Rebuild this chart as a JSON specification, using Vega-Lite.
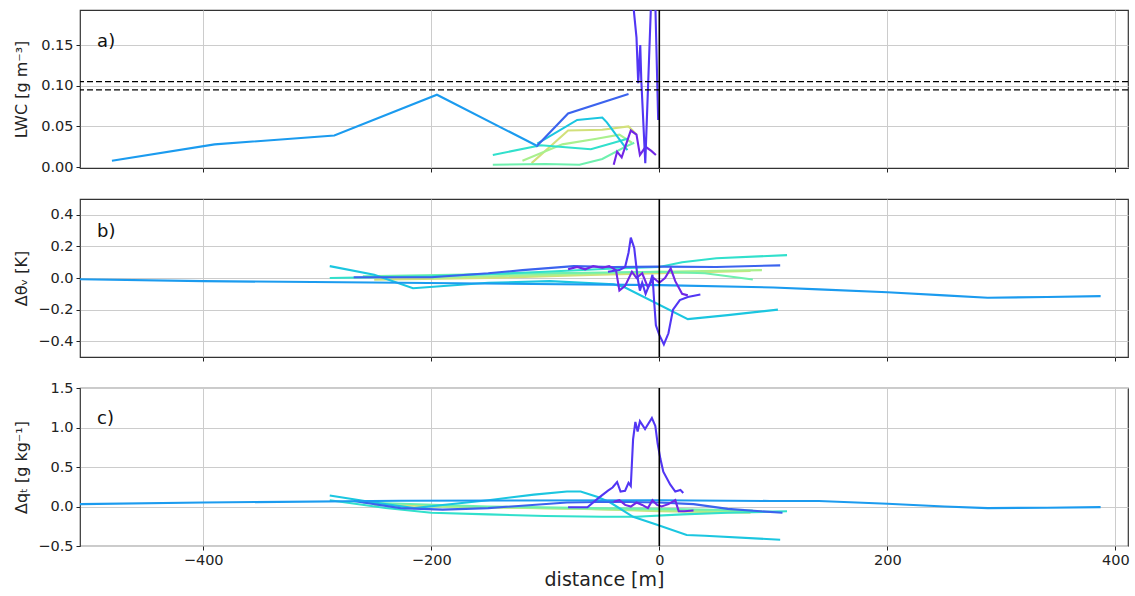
{
  "$schema": "https://vega.github.io/schema/vega-lite/v6.json",
  "padding": {"left": 12, "top": 8, "right": 7, "bottom": 5},
  "bounds": "flush",
  "spacing": 31,
  "background": "white",
  "config": {
    "font": "DejaVu Sans",
    "view": {"stroke": "#333333", "strokeWidth": 1.2},
    "axis": {
      "labelFont": "DejaVu Sans", "labelFontSize": 14.5, "labelColor": "#222222", "labelOverlap": false,
      "tickColor": "#222222", "tickSize": 4, "labelPadding": 3, "domain": false, "tickCount": 12,
      "gridColor": "#cccccc", "gridWidth": 1,
      "titleFont": "DejaVu Sans", "titleFontWeight": "normal", "titleColor": "#222222", "titleFontSize": 16
    },
    "line": {"strokeWidth": 2.1, "clip": true}
  },
  "datasets": {
    "lines": [
      {"p":"a","s":"y1","x":-112,"y":0.005},{"p":"a","s":"y1","x":-92,"y":0.03},{"p":"a","s":"y1","x":-80,"y":0.045},{"p":"a","s":"y1","x":-50,"y":0.046},{"p":"a","s":"y1","x":-27,"y":0.05},{"p":"a","s":"y1","x":-20,"y":0.04},
      {"p":"a","s":"g2","x":-120,"y":0.008},{"p":"a","s":"g2","x":-85,"y":0.028},{"p":"a","s":"g2","x":-55,"y":0.035},{"p":"a","s":"g2","x":-35,"y":0.04},{"p":"a","s":"g2","x":-24,"y":0.03},
      {"p":"a","s":"g1","x":-146,"y":0.003},{"p":"a","s":"g1","x":-100,"y":0.004},{"p":"a","s":"g1","x":-70,"y":0.003},{"p":"a","s":"g1","x":-50,"y":0.01},{"p":"a","s":"g1","x":-30,"y":0.025},{"p":"a","s":"g1","x":-22,"y":0.03},
      {"p":"a","s":"c2","x":-146,"y":0.015},{"p":"a","s":"c2","x":-104,"y":0.027},{"p":"a","s":"c2","x":-60,"y":0.022},{"p":"a","s":"c2","x":-40,"y":0.03},{"p":"a","s":"c2","x":-28,"y":0.035},
      {"p":"a","s":"c1","x":-107,"y":0.029},{"p":"a","s":"c1","x":-72,"y":0.058},{"p":"a","s":"c1","x":-50,"y":0.061},{"p":"a","s":"c1","x":-46,"y":0.055},{"p":"a","s":"c1","x":-28,"y":0.021},
      {"p":"a","s":"s2","x":-108,"y":0.025},{"p":"a","s":"s2","x":-80,"y":0.066},{"p":"a","s":"s2","x":-27,"y":0.09},
      {"p":"a","s":"s1","x":-480,"y":0.008},{"p":"a","s":"s1","x":-390,"y":0.028},{"p":"a","s":"s1","x":-285,"y":0.039},{"p":"a","s":"s1","x":-195,"y":0.089},{"p":"a","s":"s1","x":-107,"y":0.026},
      {"p":"a","s":"v2","x":-40,"y":0.003},{"p":"a","s":"v2","x":-37,"y":0.019},{"p":"a","s":"v2","x":-33,"y":0.012},{"p":"a","s":"v2","x":-25,"y":0.045},{"p":"a","s":"v2","x":-20,"y":0.04},{"p":"a","s":"v2","x":-17,"y":0.015},{"p":"a","s":"v2","x":-12,"y":0.025},{"p":"a","s":"v2","x":-7,"y":0.02},{"p":"a","s":"v2","x":-3,"y":0.015},
      {"p":"a","s":"v1","x":-25,"y":0.23},{"p":"a","s":"v1","x":-20,"y":0.159},{"p":"a","s":"v1","x":-18.5,"y":0.103},{"p":"a","s":"v1","x":-16.7,"y":0.15},{"p":"a","s":"v1","x":-15.8,"y":0.107},{"p":"a","s":"v1","x":-12.3,"y":0.005},{"p":"a","s":"v1","x":-6.5,"y":0.23},{"p":"a","s":"v1","x":-4,"y":0.23},{"p":"a","s":"v1","x":-1,"y":0.058},

      {"p":"b","s":"y1","x":-250,"y":-0.01},{"p":"b","s":"y1","x":-150,"y":0.0},{"p":"b","s":"y1","x":-60,"y":0.02},{"p":"b","s":"y1","x":0,"y":0.03},{"p":"b","s":"y1","x":80,"y":0.045},
      {"p":"b","s":"g2","x":-200,"y":0.0},{"p":"b","s":"g2","x":-100,"y":0.02},{"p":"b","s":"g2","x":0,"y":0.04},{"p":"b","s":"g2","x":90,"y":0.05},
      {"p":"b","s":"g1","x":-260,"y":0.01},{"p":"b","s":"g1","x":-100,"y":0.03},{"p":"b","s":"g1","x":0,"y":0.04},{"p":"b","s":"g1","x":40,"y":0.03},{"p":"b","s":"g1","x":82,"y":-0.01},
      {"p":"b","s":"c2","x":-289,"y":0.0},{"p":"b","s":"c2","x":-200,"y":0.01},{"p":"b","s":"c2","x":-100,"y":0.04},{"p":"b","s":"c2","x":-40,"y":0.06},{"p":"b","s":"c2","x":0,"y":0.07},{"p":"b","s":"c2","x":20,"y":0.1},{"p":"b","s":"c2","x":50,"y":0.125},{"p":"b","s":"c2","x":112,"y":0.145},
      {"p":"b","s":"c1","x":-289,"y":0.075},{"p":"b","s":"c1","x":-250,"y":0.02},{"p":"b","s":"c1","x":-216,"y":-0.065},{"p":"b","s":"c1","x":-150,"y":-0.03},{"p":"b","s":"c1","x":-96,"y":-0.02},{"p":"b","s":"c1","x":-40,"y":-0.04},{"p":"b","s":"c1","x":-30,"y":-0.06},{"p":"b","s":"c1","x":25,"y":-0.26},{"p":"b","s":"c1","x":60,"y":-0.235},{"p":"b","s":"c1","x":104,"y":-0.2},
      {"p":"b","s":"s2","x":-268,"y":0.005},{"p":"b","s":"s2","x":-200,"y":0.005},{"p":"b","s":"s2","x":-150,"y":0.03},{"p":"b","s":"s2","x":-120,"y":0.05},{"p":"b","s":"s2","x":-75,"y":0.075},{"p":"b","s":"s2","x":-40,"y":0.07},{"p":"b","s":"s2","x":0,"y":0.072},{"p":"b","s":"s2","x":50,"y":0.07},{"p":"b","s":"s2","x":106,"y":0.08},
      {"p":"b","s":"s1","x":-508,"y":-0.008},{"p":"b","s":"s1","x":-400,"y":-0.02},{"p":"b","s":"s1","x":-227,"y":-0.03},{"p":"b","s":"s1","x":0,"y":-0.045},{"p":"b","s":"s1","x":100,"y":-0.06},{"p":"b","s":"s1","x":140,"y":-0.072},{"p":"b","s":"s1","x":200,"y":-0.09},{"p":"b","s":"s1","x":250,"y":-0.11},{"p":"b","s":"s1","x":288,"y":-0.125},{"p":"b","s":"s1","x":340,"y":-0.12},{"p":"b","s":"s1","x":387,"y":-0.115},
      {"p":"b","s":"v2","x":-80,"y":0.055},{"p":"b","s":"v2","x":-72,"y":0.07},{"p":"b","s":"v2","x":-65,"y":0.055},{"p":"b","s":"v2","x":-58,"y":0.075},{"p":"b","s":"v2","x":-50,"y":0.065},{"p":"b","s":"v2","x":-44,"y":0.075},{"p":"b","s":"v2","x":-38,"y":0.05},{"p":"b","s":"v2","x":-35,"y":-0.08},{"p":"b","s":"v2","x":-30,"y":-0.05},{"p":"b","s":"v2","x":-24,"y":0.04},{"p":"b","s":"v2","x":-20,"y":0.0},{"p":"b","s":"v2","x":-15,"y":0.03},{"p":"b","s":"v2","x":-10,"y":-0.06},{"p":"b","s":"v2","x":-5,"y":0.0},{"p":"b","s":"v2","x":0,"y":-0.03},{"p":"b","s":"v2","x":5,"y":0.0},{"p":"b","s":"v2","x":10,"y":0.06},{"p":"b","s":"v2","x":14,"y":-0.02},{"p":"b","s":"v2","x":20,"y":-0.1},{"p":"b","s":"v2","x":25,"y":-0.11},
      {"p":"b","s":"v1","x":-45,"y":0.04},{"p":"b","s":"v1","x":-35,"y":0.05},{"p":"b","s":"v1","x":-30,"y":0.07},{"p":"b","s":"v1","x":-27,"y":0.16},{"p":"b","s":"v1","x":-25,"y":0.256},{"p":"b","s":"v1","x":-22,"y":0.19},{"p":"b","s":"v1","x":-19,"y":0.0},{"p":"b","s":"v1","x":-17,"y":-0.08},{"p":"b","s":"v1","x":-15,"y":-0.03},{"p":"b","s":"v1","x":-12,"y":-0.1},{"p":"b","s":"v1","x":-8,"y":-0.03},{"p":"b","s":"v1","x":-6,"y":0.02},{"p":"b","s":"v1","x":-4.5,"y":-0.15},{"p":"b","s":"v1","x":-3,"y":-0.3},{"p":"b","s":"v1","x":0,"y":-0.36},{"p":"b","s":"v1","x":4,"y":-0.42},{"p":"b","s":"v1","x":8,"y":-0.35},{"p":"b","s":"v1","x":12,"y":-0.2},{"p":"b","s":"v1","x":18,"y":-0.14},{"p":"b","s":"v1","x":25,"y":-0.12},{"p":"b","s":"v1","x":36,"y":-0.105},

      {"p":"c","s":"y1","x":-250,"y":0.02},{"p":"c","s":"y1","x":-150,"y":-0.01},{"p":"c","s":"y1","x":-60,"y":-0.03},{"p":"c","s":"y1","x":0,"y":-0.06},{"p":"c","s":"y1","x":80,"y":-0.08},
      {"p":"c","s":"g2","x":-200,"y":0.0},{"p":"c","s":"g2","x":-100,"y":-0.02},{"p":"c","s":"g2","x":0,"y":-0.05},{"p":"c","s":"g2","x":90,"y":-0.06},
      {"p":"c","s":"g1","x":-260,"y":0.05},{"p":"c","s":"g1","x":-150,"y":0.0},{"p":"c","s":"g1","x":-60,"y":-0.02},{"p":"c","s":"g1","x":0,"y":-0.03},{"p":"c","s":"g1","x":82,"y":-0.05},
      {"p":"c","s":"c2","x":-289,"y":0.08},{"p":"c","s":"c2","x":-240,"y":-0.02},{"p":"c","s":"c2","x":-200,"y":-0.08},{"p":"c","s":"c2","x":-150,"y":-0.1},{"p":"c","s":"c2","x":-100,"y":-0.12},{"p":"c","s":"c2","x":-50,"y":-0.13},{"p":"c","s":"c2","x":-20,"y":-0.13},{"p":"c","s":"c2","x":20,"y":-0.1},{"p":"c","s":"c2","x":60,"y":-0.08},{"p":"c","s":"c2","x":112,"y":-0.06},
      {"p":"c","s":"c1","x":-289,"y":0.14},{"p":"c","s":"c1","x":-250,"y":0.05},{"p":"c","s":"c1","x":-215,"y":-0.02},{"p":"c","s":"c1","x":-190,"y":0.02},{"p":"c","s":"c1","x":-150,"y":0.08},{"p":"c","s":"c1","x":-110,"y":0.15},{"p":"c","s":"c1","x":-81,"y":0.19},{"p":"c","s":"c1","x":-69,"y":0.19},{"p":"c","s":"c1","x":-54,"y":0.12},{"p":"c","s":"c1","x":-43,"y":0.05},{"p":"c","s":"c1","x":-23,"y":-0.13},{"p":"c","s":"c1","x":-2,"y":-0.23},{"p":"c","s":"c1","x":24,"y":-0.36},{"p":"c","s":"c1","x":40,"y":-0.37},{"p":"c","s":"c1","x":106,"y":-0.42},
      {"p":"c","s":"s2","x":-268,"y":0.07},{"p":"c","s":"s2","x":-227,"y":-0.02},{"p":"c","s":"s2","x":-190,"y":-0.04},{"p":"c","s":"s2","x":-150,"y":-0.02},{"p":"c","s":"s2","x":-81,"y":0.05},{"p":"c","s":"s2","x":-40,"y":0.06},{"p":"c","s":"s2","x":0,"y":0.05},{"p":"c","s":"s2","x":30,"y":0.03},{"p":"c","s":"s2","x":60,"y":-0.03},{"p":"c","s":"s2","x":108,"y":-0.08},
      {"p":"c","s":"s1","x":-508,"y":0.03},{"p":"c","s":"s1","x":-400,"y":0.05},{"p":"c","s":"s1","x":-227,"y":0.073},{"p":"c","s":"s1","x":0,"y":0.08},{"p":"c","s":"s1","x":97,"y":0.07},{"p":"c","s":"s1","x":140,"y":0.07},{"p":"c","s":"s1","x":200,"y":0.035},{"p":"c","s":"s1","x":250,"y":0.0},{"p":"c","s":"s1","x":288,"y":-0.02},{"p":"c","s":"s1","x":340,"y":-0.015},{"p":"c","s":"s1","x":387,"y":-0.008},
      {"p":"c","s":"v2","x":-40,"y":0.06},{"p":"c","s":"v2","x":-35,"y":0.08},{"p":"c","s":"v2","x":-30,"y":0.02},{"p":"c","s":"v2","x":-25,"y":0.0},{"p":"c","s":"v2","x":-20,"y":0.05},{"p":"c","s":"v2","x":-15,"y":0.02},{"p":"c","s":"v2","x":-10,"y":-0.02},{"p":"c","s":"v2","x":-6,"y":0.08},{"p":"c","s":"v2","x":-2,"y":0.02},{"p":"c","s":"v2","x":2,"y":0.0},{"p":"c","s":"v2","x":8,"y":0.03},{"p":"c","s":"v2","x":14,"y":0.08},{"p":"c","s":"v2","x":17,"y":-0.06},{"p":"c","s":"v2","x":22,"y":-0.06},{"p":"c","s":"v2","x":30,"y":-0.05},
      {"p":"c","s":"v1","x":-80,"y":-0.01},{"p":"c","s":"v1","x":-63,"y":-0.01},{"p":"c","s":"v1","x":-54,"y":0.1},{"p":"c","s":"v1","x":-45,"y":0.2},{"p":"c","s":"v1","x":-41,"y":0.24},{"p":"c","s":"v1","x":-37,"y":0.31},{"p":"c","s":"v1","x":-34,"y":0.19},{"p":"c","s":"v1","x":-30,"y":0.2},{"p":"c","s":"v1","x":-27,"y":0.3},{"p":"c","s":"v1","x":-25,"y":0.26},{"p":"c","s":"v1","x":-23,"y":0.85},{"p":"c","s":"v1","x":-21,"y":1.07},{"p":"c","s":"v1","x":-19,"y":0.95},{"p":"c","s":"v1","x":-17,"y":1.08},{"p":"c","s":"v1","x":-12.5,"y":0.98},{"p":"c","s":"v1","x":-6.5,"y":1.12},{"p":"c","s":"v1","x":-3.5,"y":1.02},{"p":"c","s":"v1","x":-1.5,"y":0.8},{"p":"c","s":"v1","x":1,"y":0.6},{"p":"c","s":"v1","x":3.5,"y":0.44},{"p":"c","s":"v1","x":9.5,"y":0.28},{"p":"c","s":"v1","x":14,"y":0.19},{"p":"c","s":"v1","x":18.5,"y":0.21},{"p":"c","s":"v1","x":21,"y":0.17}
    ]
  },
  "vconcat": [
    {
      "width": 1048, "height": 158,
      "layer": [
        {
          "data": {"name": "lines"},
          "transform": [{"filter": "datum.p === 'a'"}],
          "mark": {"type": "line", "clip": true},
          "encoding": {
            "x": {"field": "x", "type": "quantitative", "scale": {"domain": [-508, 411], "nice": false, "zero": false},
                  "axis": {"values": [-400, -200, 0, 200, 400], "labels": false, "title": null, "tickCount": 12}},
            "y": {"field": "y", "type": "quantitative", "scale": {"domain": [-0.001, 0.193], "nice": false, "zero": false},
                  "axis": {"values": [0, 0.05, 0.1, 0.15], "format": ".2f", "tickCount": 12, "title": "LWC [g m⁻³]", "titleX": -51, "titleY": 79}},
            "color": {"field": "s", "type": "nominal", "legend": null,
                      "scale": {"domain": ["s1","s2","v1","v2","c1","c2","g1","g2","y1"],
                                "range": ["#1b9bef","#3b63ee","#5236f4","#7127e6","#1bc6e0","#31e0cc","#6ef0ae","#a9f08e","#d2e07a"]}},
            "order": {"field": "x", "type": "quantitative"}
          }
        },
        {
          "data": {"values": [{"y": 0.105}, {"y": 0.095}]},
          "mark": {"type": "rule", "color": "black", "strokeDash": [6, 3], "strokeWidth": 1.3},
          "encoding": {"y": {"field": "y", "type": "quantitative"}}
        },
        {
          "data": {"values": [{"x": 0}]},
          "mark": {"type": "rule", "color": "black", "strokeWidth": 1.6},
          "encoding": {"x": {"field": "x", "type": "quantitative"}}
        },
        {
          "data": {"values": [{"x": -493, "y": 0.154, "t": "a)"}]},
          "mark": {"type": "text", "align": "left", "baseline": "middle", "fontSize": 18, "color": "#111111"},
          "encoding": {"x": {"field": "x", "type": "quantitative"}, "y": {"field": "y", "type": "quantitative"}, "text": {"field": "t"}}
        }
      ]
    },
    {
      "width": 1048, "height": 158,
      "layer": [
        {
          "data": {"name": "lines"},
          "transform": [{"filter": "datum.p === 'b'"}],
          "mark": {"type": "line", "clip": true},
          "encoding": {
            "x": {"field": "x", "type": "quantitative", "scale": {"domain": [-508, 411], "nice": false, "zero": false},
                  "axis": {"values": [-400, -200, 0, 200, 400], "labels": false, "title": null, "tickCount": 12}},
            "y": {"field": "y", "type": "quantitative", "scale": {"domain": [-0.5, 0.5], "nice": false, "zero": false},
                  "axis": {"values": [-0.4, -0.2, 0, 0.2, 0.4], "format": ".1f", "tickCount": 12, "title": "Δθᵥ [K]", "titleX": -51, "titleY": 79}},
            "color": {"field": "s", "type": "nominal", "legend": null,
                      "scale": {"domain": ["s1","s2","v1","v2","c1","c2","g1","g2","y1"],
                                "range": ["#1b9bef","#3b63ee","#5236f4","#7127e6","#1bc6e0","#31e0cc","#6ef0ae","#a9f08e","#d2e07a"]}},
            "order": {"field": "x", "type": "quantitative"}
          }
        },
        {
          "data": {"values": [{"x": 0}]},
          "mark": {"type": "rule", "color": "black", "strokeWidth": 1.6},
          "encoding": {"x": {"field": "x", "type": "quantitative"}}
        },
        {
          "data": {"values": [{"x": -493, "y": 0.294, "t": "b)"}]},
          "mark": {"type": "text", "align": "left", "baseline": "middle", "fontSize": 18, "color": "#111111"},
          "encoding": {"x": {"field": "x", "type": "quantitative"}, "y": {"field": "y", "type": "quantitative"}, "text": {"field": "t"}}
        }
      ]
    },
    {
      "width": 1048, "height": 158,
      "layer": [
        {
          "data": {"name": "lines"},
          "transform": [{"filter": "datum.p === 'c'"}],
          "mark": {"type": "line", "clip": true},
          "encoding": {
            "x": {"field": "x", "type": "quantitative", "scale": {"domain": [-508, 411], "nice": false, "zero": false},
                  "axis": {"values": [-400, -200, 0, 200, 400], "format": "d", "tickCount": 12, "title": "distance [m]", "titleFontSize": 19, "titlePadding": 4}},
            "y": {"field": "y", "type": "quantitative", "scale": {"domain": [-0.5, 1.5], "nice": false, "zero": false},
                  "axis": {"values": [-0.5, 0, 0.5, 1, 1.5], "format": ".1f", "tickCount": 12, "title": "Δqₜ [g kg⁻¹]", "titleX": -51, "titleY": 79}},
            "color": {"field": "s", "type": "nominal", "legend": null,
                      "scale": {"domain": ["s1","s2","v1","v2","c1","c2","g1","g2","y1"],
                                "range": ["#1b9bef","#3b63ee","#5236f4","#7127e6","#1bc6e0","#31e0cc","#6ef0ae","#a9f08e","#d2e07a"]}},
            "order": {"field": "x", "type": "quantitative"}
          }
        },
        {
          "data": {"values": [{"x": 0}]},
          "mark": {"type": "rule", "color": "black", "strokeWidth": 1.6},
          "encoding": {"x": {"field": "x", "type": "quantitative"}}
        },
        {
          "data": {"values": [{"x": -493, "y": 1.106, "t": "c)"}]},
          "mark": {"type": "text", "align": "left", "baseline": "middle", "fontSize": 18, "color": "#111111"},
          "encoding": {"x": {"field": "x", "type": "quantitative"}, "y": {"field": "y", "type": "quantitative"}, "text": {"field": "t"}}
        }
      ]
    }
  ]
}
